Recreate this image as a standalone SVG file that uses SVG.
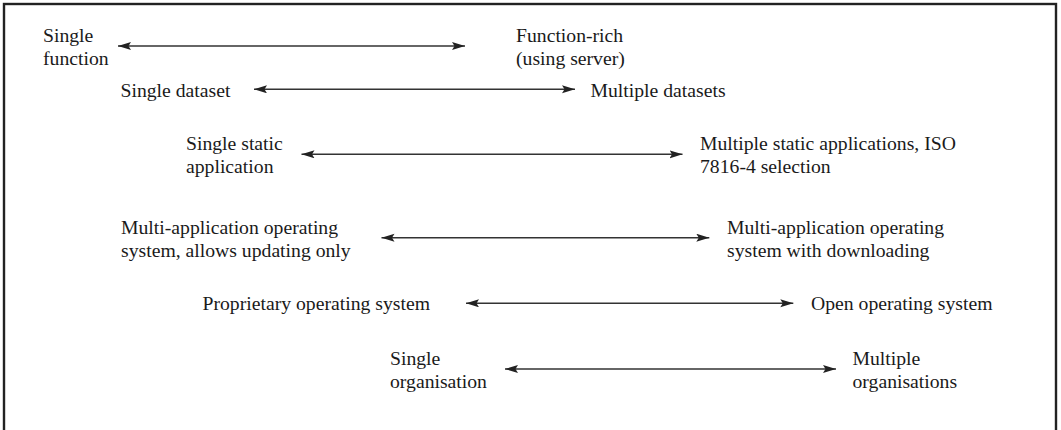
<svg xmlns="http://www.w3.org/2000/svg" width="1061" height="430" viewBox="0 0 1061 430">
  <style>
    .t { font-family: "Liberation Serif", "Times New Roman", serif; font-size: 19.7px; fill: #1a1a1a; }
    .c { stroke: #333; stroke-width: 1.4; fill: none; marker-start: url(#ah); marker-end: url(#ah); }
  </style>
  <defs>
    <marker id="ah" markerUnits="userSpaceOnUse" markerWidth="14" markerHeight="10" refX="13" refY="4" orient="auto-start-reverse">
      <path d="M0,0 L13,4 L0,8 L2.5,4 z" fill="#222"/>
    </marker>
  </defs>
  <rect x="4" y="4" width="1052" height="440" fill="#fff" stroke="#222" stroke-width="2.4"/>

  <g id="n-single-function"><text class="t" x="43" y="41.5">Single</text><text class="t" x="43" y="64.5">function</text></g>
  <g id="n-function-rich"><text class="t" x="516" y="41.5">Function-rich</text><text class="t" x="516" y="64.5">(using server)</text></g>
  <g id="n-single-dataset"><text class="t" x="120.5" y="96.5">Single dataset</text></g>
  <g id="n-multiple-datasets"><text class="t" x="590.5" y="96.5">Multiple datasets</text></g>
  <g id="n-single-static"><text class="t" x="186" y="149.5">Single static</text><text class="t" x="186" y="172.5">application</text></g>
  <g id="n-multiple-static"><text class="t" x="700" y="149.5">Multiple static applications, ISO</text><text class="t" x="700" y="172.5">7816-4 selection</text></g>
  <g id="n-multi-app-update"><text class="t" x="121" y="233.5">Multi-application operating</text><text class="t" x="121" y="256.5">system, allows updating only</text></g>
  <g id="n-multi-app-download"><text class="t" x="727" y="233.5">Multi-application operating</text><text class="t" x="727" y="256.5">system with downloading</text></g>
  <g id="n-proprietary-os"><text class="t" x="202.5" y="310">Proprietary operating system</text></g>
  <g id="n-open-os"><text class="t" x="811" y="310">Open operating system</text></g>
  <g id="n-single-org"><text class="t" x="390" y="365">Single</text><text class="t" x="390" y="387.5">organisation</text></g>
  <g id="n-multiple-orgs"><text class="t" x="852.5" y="365">Multiple</text><text class="t" x="852.5" y="387.5">organisations</text></g>

  <g id="connectors">
    <line class="c" x1="118" y1="46" x2="465" y2="46"/>
    <line class="c" x1="254" y1="89.3" x2="575" y2="89.3"/>
    <line class="c" x1="301.5" y1="154.3" x2="682.5" y2="154.3"/>
    <line class="c" x1="381.5" y1="237.7" x2="709.3" y2="237.7"/>
    <line class="c" x1="466" y1="303.3" x2="793.3" y2="303.3"/>
    <line class="c" x1="505" y1="369" x2="836" y2="369"/>
  </g>
</svg>
